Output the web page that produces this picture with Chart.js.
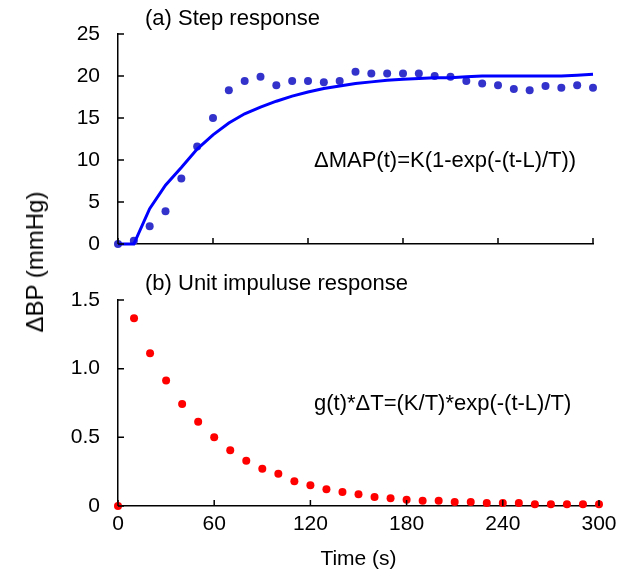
<!DOCTYPE html>
<html>
<head>
<meta charset="utf-8">
<script src="https://cdn.jsdelivr.net/npm/chart.js@4.4.1/dist/chart.umd.min.js"></script>
<style>
  body { margin: 0; background: #fff; }
  #wrap { position: relative; width: 635px; height: 575px; }
  canvas { position: absolute; left: 0; }
  #top { top: 0; }
  #bottom { top: 260px; }
  #ylabel {
    position: absolute; left: 35px; top: 262px;
    transform: translate(-50%, -50%) rotate(-90deg);
    font: 24px "Liberation Sans", Arial, sans-serif; color: #000; white-space: nowrap;
  }
</style>
</head>
<body>
<div id="wrap">
  <canvas id="top" width="635" height="260"></canvas>
  <canvas id="bottom" width="635" height="315"></canvas>
  <div id="ylabel">ΔBP (mmHg)</div>
</div>
<script>
// time axis, seconds
const times = [0, 10, 20, 30, 40, 50, 60, 70, 80, 90, 100, 110, 120, 130, 140, 150,
  160, 170, 180, 190, 200, 210, 220, 230, 240, 250, 260, 270, 280, 290, 300]

// (a) step response, measured dots and fitted curve (mmHg)
const stepDots = [0, 0.4, 2.1, 3.9, 7.8, 11.6, 15.0, 18.3, 19.4, 19.9, 18.9, 19.4, 19.4, 19.25, 19.4, 20.5,
  20.3, 20.3, 20.3, 20.3, 20.0, 19.9, 19.4, 19.1, 18.9, 18.45, 18.3, 18.8, 18.6, 18.9, 18.6]
const stepFit = [0, 0, 4.2, 7.0, 9.1, 11.3, 13.0, 14.4, 15.5, 16.3, 17.0, 17.6, 18.1, 18.5, 18.8, 19.1,
  19.3, 19.5, 19.6, 19.7, 19.8, 19.8, 19.9, 20.0, 20.0, 20.0, 20.0, 20.0, 20.0, 20.1, 20.2]

// (b) unit impulse response
const impulseDots = [0, 1.367, 1.112, 0.913, 0.743, 0.614, 0.500, 0.406, 0.330, 0.272, 0.235, 0.180, 0.151,
  0.122, 0.102, 0.085, 0.066, 0.056, 0.046, 0.039, 0.039, 0.029, 0.029, 0.022, 0.022, 0.022, 0.012,
  0.012, 0.012, 0.012, 0.012]

const timeTicks = [0, 60, 120, 180, 240, 300]
const stepTicks = [0, 5, 10, 15, 20, 25]
const impulseTicks = [0, 0.5, 1.0, 1.5]
const impulseTickLabels = ['0', '0.5', '1.0', '1.5']

const FONT = '"Liberation Sans", Arial, sans-serif'
const pts = ys => times.map((t, i) => ({ x: t, y: ys[i] }))

// inward tick marks + free text on the canvas
function decor(texts) {
  return {
    id: 'decor',
    afterDraw(chart) {
      const { ctx, chartArea: a, scales: { x, y } } = chart
      ctx.save()
      ctx.strokeStyle = '#000'
      ctx.lineWidth = 1.5
      ctx.beginPath()
      x.ticks.forEach(t => {
        const px = x.getPixelForValue(t.value)
        ctx.moveTo(px, a.bottom); ctx.lineTo(px, a.bottom - 6)
      })
      y.ticks.forEach(t => {
        const py = y.getPixelForValue(t.value)
        ctx.moveTo(a.left, py); ctx.lineTo(a.left + 6, py)
      })
      ctx.stroke()
      ctx.fillStyle = '#000'
      ctx.textBaseline = 'middle'
      ctx.textAlign = 'left'
      texts.forEach(tx => {
        ctx.font = tx.size + 'px ' + FONT
        ctx.fillText(tx.text, tx.x, tx.y)
      })
      ctx.restore()
    }
  }
}

function axes(opts) {
  return {
    x: {
      type: 'linear', min: 0, max: 300,
      afterBuildTicks: s => { s.ticks = timeTicks.map(v => ({ value: v })) },
      afterFit: s => { s.height = opts.xHeight },
      grid: { display: false, drawTicks: false },
      border: { display: true, color: '#000', width: 1.5 },
      ticks: { display: opts.xLabels, padding: 6, color: '#000', font: { family: FONT, size: 21 } },
      title: {
        display: opts.xLabels, text: 'Time (s)', color: '#000',
        font: { family: FONT, size: 21 }, padding: { top: 0, bottom: 3 }
      }
    },
    y: {
      type: 'linear', min: opts.yMin, max: opts.yMax,
      afterBuildTicks: s => { s.ticks = opts.yTicks.map(v => ({ value: v })) },
      afterFit: s => { s.width = 118 },
      // invisible tick length gives the label gap without extra layout padding
      grid: { display: false, drawTicks: true, tickLength: 18 },
      border: { display: true, color: '#000', width: 1.5 },
      ticks: {
        padding: 0, color: '#000', font: { family: FONT, size: 21 },
        callback: opts.yLabel
      }
    }
  }
}

new Chart(document.getElementById('top'), {
  type: 'scatter',
  data: {
    datasets: [
      {
        data: pts(stepFit), showLine: true, borderColor: '#0000FF', borderWidth: 3,
        pointRadius: 0, tension: 0, clip: false
      },
      {
        data: pts(stepDots), pointRadius: 4, pointBorderWidth: 0,
        backgroundColor: 'rgb(51,51,204)', clip: false
      }
    ]
  },
  options: {
    responsive: false,
    animation: false,
    layout: { padding: { left: 0, right: 42, top: 34, bottom: 0 } },
    plugins: { legend: { display: false }, tooltip: { enabled: false } },
    scales: axes({ xHeight: 16, xLabels: false, yMin: 0, yMax: 25, yTicks: stepTicks, yLabel: v => String(v) })
  },
  plugins: [decor([
    { text: '(a) Step response', x: 145, y: 19, size: 22 },
    { text: 'ΔMAP(t)=K(1-exp(-(t-L)/T))', x: 314, y: 161, size: 22 }
  ])]
})

new Chart(document.getElementById('bottom'), {
  type: 'scatter',
  data: {
    datasets: [
      {
        data: pts(impulseDots), pointRadius: 4, pointBorderWidth: 0,
        backgroundColor: '#FF0000', clip: false
      }
    ]
  },
  options: {
    responsive: false,
    animation: false,
    layout: { padding: { left: 0, right: 36, top: 40, bottom: 0 } },
    plugins: { legend: { display: false }, tooltip: { enabled: false } },
    scales: axes({
      xHeight: 69, xLabels: true, yMin: 0, yMax: 1.5, yTicks: impulseTicks,
      yLabel: (v, i) => impulseTickLabels[i]
    })
  },
  plugins: [decor([
    { text: '(b) Unit impuluse response', x: 145, y: 24, size: 22 },
    { text: 'g(t)*ΔT=(K/T)*exp(-(t-L)/T)', x: 314, y: 144, size: 22 }
  ])]
})
</script>
</body>
</html>
